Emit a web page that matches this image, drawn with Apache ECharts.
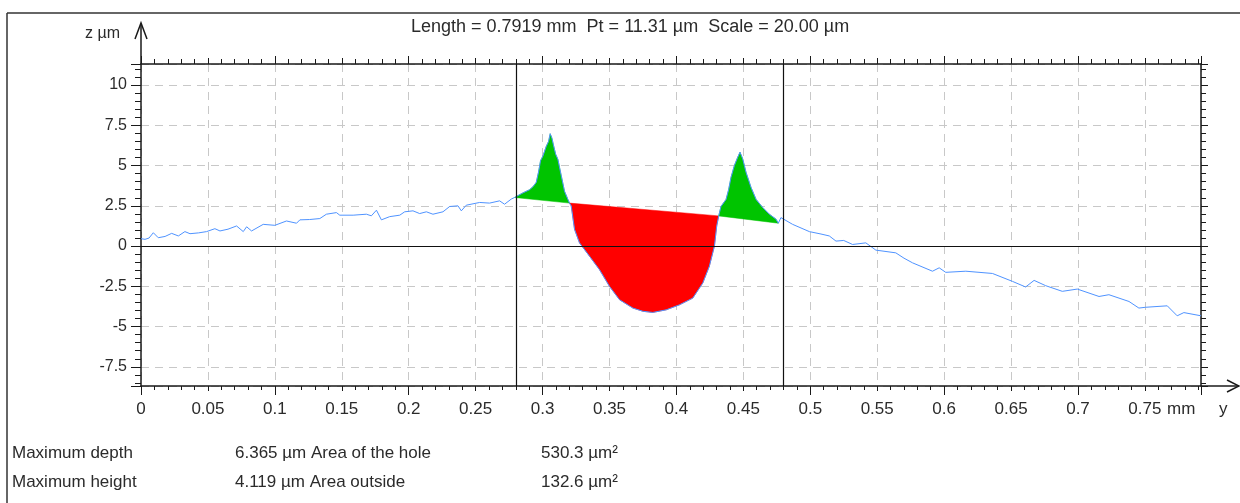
<!DOCTYPE html>
<html>
<head>
<meta charset="utf-8">
<script src="https://cdn.jsdelivr.net/npm/echarts@6/dist/echarts.min.js"></script>
<style>
html,body{margin:0;padding:0;background:#fff;}
#chart{width:1240px;height:503px;}
</style>
</head>
<body>
<div id="chart"></div>
<script>
// ---------- DATA ----------
const titleText = 'Length = 0.7919 mm  Pt = 11.31 µm  Scale = 20.00 µm';
const xMin = 0;
const xMax = 0.7919;
const zMin = -8.69;
const zMax = 11.31;

// profile: x in mm, z in µm
const profileX = [
  0, 0.0030, 0.0060, 0.0092, 0.0129, 0.0180, 0.0229, 0.0279, 0.0328, 0.0366,
  0.0430, 0.0490, 0.0552, 0.0590, 0.0650, 0.0714, 0.0764, 0.0789, 0.0826, 0.0913,
  0.1000, 0.1087, 0.1162, 0.1187, 0.1260, 0.1336, 0.1385, 0.1460, 0.1485, 0.1585,
  0.1684, 0.1721, 0.1759, 0.1796, 0.1858, 0.1933, 0.1970, 0.2032, 0.2082, 0.2132,
  0.2181, 0.2256, 0.2306, 0.2368, 0.2393, 0.2430, 0.2530, 0.2604, 0.2679, 0.2716,
  0.2766, 0.2791,
  0.2853, 0.2903, 0.2930, 0.2953, 0.2970, 0.2985, 0.3003, 0.3028, 0.3045, 0.3057,
  0.3070, 0.3082, 0.3098, 0.3114, 0.3139, 0.3164, 0.3189, 0.3201,
  0.3214, 0.3239, 0.3276, 0.3351, 0.3425, 0.3500, 0.3575, 0.3675, 0.3750, 0.3823,
  0.3923, 0.4022, 0.4122, 0.4197, 0.4246, 0.4284, 0.4301, 0.4316,
  0.4333, 0.4371, 0.4390, 0.4408, 0.4433, 0.4458, 0.4475, 0.4495, 0.4520, 0.4557,
  0.4595, 0.4644, 0.4694, 0.4744, 0.4761, 0.4781,
  0.4794, 0.4868, 0.4993, 0.5080, 0.5142, 0.5192, 0.5250, 0.5316, 0.5415, 0.5490,
  0.5639, 0.5700, 0.5764, 0.5913, 0.5963, 0.6012, 0.6162, 0.6361, 0.6510, 0.6609,
  0.6672, 0.6759, 0.6883, 0.6995, 0.7157, 0.7231, 0.7381, 0.7455, 0.7505, 0.7667,
  0.7741, 0.7791, 0.7919
];
const profileZ = [
  0.46, 0.42, 0.50, 0.83, 0.52, 0.60, 0.79, 0.63, 0.90, 0.77,
  0.82, 0.90, 1.08, 0.94, 1.05, 1.25, 0.90, 1.20, 0.94, 1.35,
  1.29, 1.56, 1.42, 1.63, 1.65, 1.71, 1.98, 2.08, 1.92, 1.92,
  1.98, 1.88, 2.23, 1.63, 1.83, 1.92, 2.13, 2.19, 2.02, 2.13,
  1.98, 2.13, 2.46, 2.50, 2.19, 2.54, 2.71, 2.67, 2.81, 2.60,
  2.92, 3.02,
  3.30, 3.50, 3.70, 3.96, 4.60, 5.30, 5.60, 6.20, 6.50, 6.98,
  6.70, 6.25, 5.70, 5.40, 4.40, 3.40, 2.90, 2.67,
  2.50, 1.04, 0.20, -0.63, -1.46, -2.50, -3.33, -3.85, -4.05, -4.12,
  -3.96, -3.65, -3.23, -2.29, -1.25, 0.00, 1.25, 1.875,
  2.46, 2.90, 3.50, 4.27, 5.00, 5.52, 5.83, 5.42, 4.58, 3.65,
  2.90, 2.40, 1.98, 1.67, 1.42, 1.77,
  1.67, 1.35, 0.90, 0.75, 0.63, 0.31, 0.35, 0.10, 0.20, -0.25,
  -0.42, -0.75, -1.04, -1.56, -1.35, -1.63, -1.56, -1.70, -2.19, -2.54,
  -2.13, -2.46, -2.81, -2.67, -3.13, -3.02, -3.44, -3.85, -3.80, -3.71,
  -4.33, -4.13, -4.33
];

// filled regions (x bounds in mm): peak, hole, peak
const regionStart = [0.2791, 0.3201, 0.4316];
const regionEnd   = [0.3201, 0.4316, 0.4761];
const regionColor = ['#00c400', '#ff0000', '#00c400'];

// cursor lines
const cursorX = [0.2791, 0.4791];

// results table
const tableLabels = ['Maximum depth', 'Maximum height'];
const tableValues = ['6.365 µm Area of the hole', '4.119 µm Area outside'];
const tableAreas  = ['530.3 µm²', '132.6 µm²'];

// ---------- CHART ----------
const FONT = 'Liberation Sans, Arial, sans-serif';
const TXT = '#2b2b2b';
const AXC = '#1a1a1a';

function xFmt(v) {
  const k = Math.round(v / 0.05);
  if (Math.abs(v - k * 0.05) > 1e-6) return '';
  return String(parseFloat((k * 0.05).toFixed(2)));
}
function yFmt(v) {
  const k = Math.round(v / 2.5);
  if (Math.abs(v - k * 2.5) > 1e-6) return '';
  return String(parseFloat((k * 2.5).toFixed(1)));
}

const chart = echarts.init(document.getElementById('chart'), null, {renderer: 'canvas'});

const baseX = {type: 'value', min: xMin, max: xMax, gridIndex: 0};
const baseY = {type: 'value', min: zMin, max: zMax, gridIndex: 0, minInterval: 2.5, maxInterval: 2.5, splitNumber: 8};

const option = {
  animation: false,
  backgroundColor: '#fff',
  grid: {left: 141, right: 39, top: 64, bottom: 117, show: false},
  xAxis: [
    Object.assign({}, baseX, {
      position: 'bottom', interval: 0.05,
      axisLine: {show: true, onZero: false, lineStyle: {color: AXC, width: 1.5}},
      axisTick: {show: true, length: 5, lineStyle: {color: AXC}},
      minorTick: {show: true, splitNumber: 5, length: 4, lineStyle: {color: AXC}},
      axisLabel: {show: true, formatter: xFmt, margin: 15, color: TXT, fontSize: 17, fontFamily: FONT},
      splitLine: {show: true, lineStyle: {color: '#c8c8c8', type: [8, 6], width: 1}}
    }),
    Object.assign({}, baseX, {
      position: 'bottom', interval: 0.1,
      axisLine: {show: false, onZero: false},
      axisTick: {show: true, length: 9, lineStyle: {color: AXC}},
      axisLabel: {show: false},
      splitLine: {show: false}
    }),
    Object.assign({}, baseX, {
      position: 'top', interval: 0.05,
      axisLine: {show: true, onZero: false, lineStyle: {color: AXC, width: 1.5}},
      axisTick: {show: true, length: 6, lineStyle: {color: AXC}},
      minorTick: {show: true, splitNumber: 5, length: 5, lineStyle: {color: AXC}},
      axisLabel: {show: false},
      splitLine: {show: false}
    }),
    Object.assign({}, baseX, {
      position: 'top', interval: 0.1,
      axisLine: {show: false, onZero: false},
      axisTick: {show: true, length: 8, lineStyle: {color: AXC}},
      axisLabel: {show: false},
      splitLine: {show: false}
    })
  ],
  yAxis: [
    Object.assign({}, baseY, {
      position: 'left',
      axisLine: {show: true, onZero: false, lineStyle: {color: AXC, width: 1.5}},
      axisTick: {show: true, length: 10, lineStyle: {color: AXC}},
      minorTick: {show: true, splitNumber: 5, length: 6, lineStyle: {color: AXC}},
      axisLabel: {show: true, formatter: yFmt, margin: 14, color: TXT, fontSize: 16, fontFamily: FONT, showMinLabel: false, showMaxLabel: false},
      splitLine: {show: true, lineStyle: {color: '#c8c8c8', type: [8, 6], width: 1}}
    }),
    Object.assign({}, baseY, {
      position: 'right',
      axisLine: {show: true, onZero: false, lineStyle: {color: AXC, width: 1.5}},
      axisTick: {show: true, length: 7, lineStyle: {color: AXC}},
      minorTick: {show: true, splitNumber: 5, length: 5, lineStyle: {color: AXC}},
      axisLabel: {show: false},
      splitLine: {show: false}
    })
  ],
  series: [
    {
      type: 'custom',
      xAxisIndex: 0, yAxisIndex: 0,
      z: 2,
      silent: true,
      encode: {x: [0, 1]},
      data: regionStart.map((s, i) => [s, regionEnd[i]]),
      renderItem: function (params, api) {
        const i = params.dataIndex;
        const a = regionStart[i], b = regionEnd[i];
        const pts = [];
        for (let k = 0; k < profileX.length; k++) {
          if (profileX[k] >= a - 1e-9 && profileX[k] <= b + 1e-9) {
            pts.push(api.coord([profileX[k], profileZ[k]]));
          }
        }
        return {type: 'polygon', shape: {points: pts}, style: {fill: regionColor[i], stroke: regionColor[i], lineWidth: 0.5}};
      }
    },
    {
      type: 'line',
      xAxisIndex: 0, yAxisIndex: 0,
      z: 3,
      data: profileX.map((x, i) => [x, profileZ[i]]),
      showSymbol: false,
      symbol: 'none',
      lineStyle: {color: '#4f93ff', width: 1},
      silent: true,
      markLine: {
        silent: true,
        symbol: ['none', 'none'],
        label: {show: false},
        lineStyle: {color: '#111', width: 1.2, type: 'solid'},
        data: cursorX.map(x => ({xAxis: x})).concat([{yAxis: 0}])
      }
    }
  ],
  graphic: [
    // outer frame
    {type: 'line', shape: {x1: 7, y1: 13, x2: 1240, y2: 13}, style: {stroke: '#333', lineWidth: 1.5}},
    {type: 'line', shape: {x1: 7, y1: 13, x2: 7, y2: 503}, style: {stroke: '#333', lineWidth: 1.5}},
    // y-axis arrow
    {type: 'line', shape: {x1: 141, y1: 64, x2: 141, y2: 24}, style: {stroke: AXC, lineWidth: 1.5}},
    {type: 'polyline', shape: {points: [[135, 39], [141, 23], [147, 39]]}, style: {stroke: AXC, lineWidth: 1.5, fill: null}},
    // x-axis arrow
    {type: 'line', shape: {x1: 1201, y1: 386, x2: 1239, y2: 386}, style: {stroke: AXC, lineWidth: 1.5}},
    {type: 'polyline', shape: {points: [[1227, 380], [1239, 386], [1227, 392]]}, style: {stroke: AXC, lineWidth: 1.5, fill: null}},
    // axis names
    {type: 'text', left: 85, top: 26, style: {text: 'z µm', fill: TXT, font: '16px ' + FONT}},
    {type: 'text', left: 1167, top: 401, style: {text: 'mm', fill: TXT, font: '17px ' + FONT}},
    {type: 'text', left: 1219, top: 401, style: {text: 'y', fill: TXT, font: '17px ' + FONT}},
    // title
    {type: 'text', left: 411, top: 18, style: {text: titleText, fill: TXT, font: '18px ' + FONT}},
    // table
    {type: 'text', left: 12, top: 445, style: {text: tableLabels[0], fill: TXT, font: '17px ' + FONT}},
    {type: 'text', left: 12, top: 474, style: {text: tableLabels[1], fill: TXT, font: '17px ' + FONT}},
    {type: 'text', left: 235, top: 445, style: {text: tableValues[0], fill: TXT, font: '17px ' + FONT}},
    {type: 'text', left: 235, top: 474, style: {text: tableValues[1], fill: TXT, font: '17px ' + FONT}},
    {type: 'text', left: 541, top: 445, style: {text: tableAreas[0], fill: TXT, font: '17px ' + FONT}},
    {type: 'text', left: 541, top: 474, style: {text: tableAreas[1], fill: TXT, font: '17px ' + FONT}}
  ]
};
chart.setOption(option);
</script>
</body>
</html>
